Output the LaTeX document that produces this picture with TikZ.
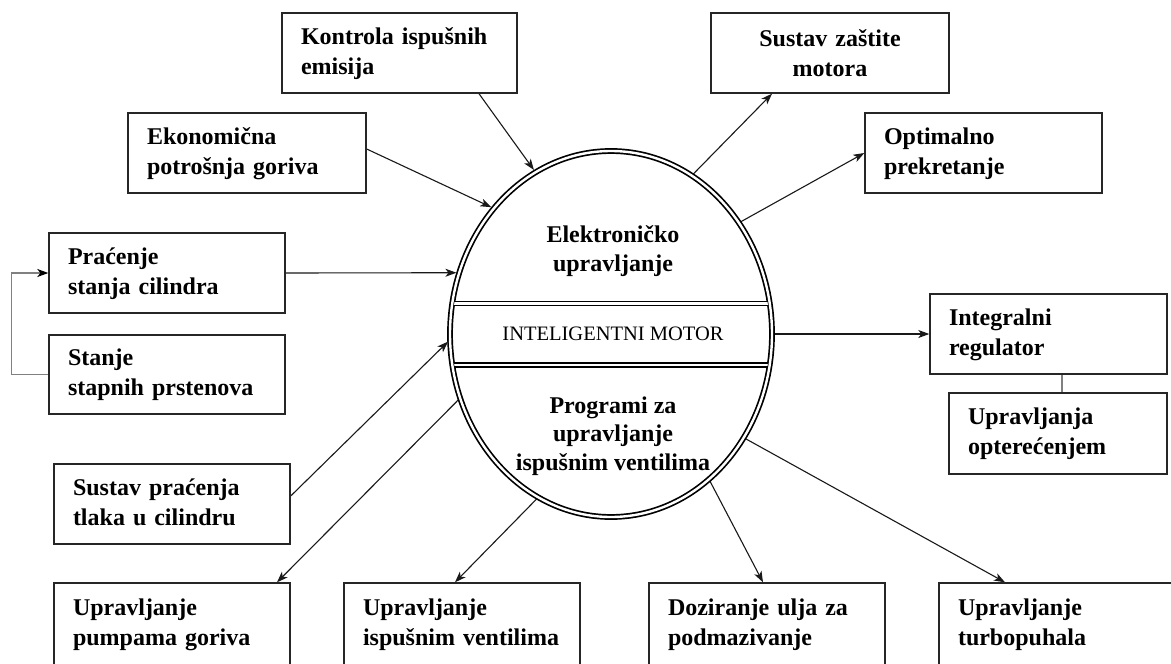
\documentclass[tikz,border=0pt]{standalone}
\usepackage{fontspec}
\setmainfont{Liberation Serif}
\usetikzlibrary{arrows.meta,calc,shapes.geometric}
\pgfdeclarelayer{bg}
\pgfsetlayers{bg,main}
\newcommand\bxt[1]{\begin{tabular}{@{\hspace{19pt}}l@{}}#1\end{tabular}}
\begin{document}
\begin{tikzpicture}[x=1pt,y=-1pt,
  box/.style={draw=black!85, line width=1.4pt, fill=white, minimum height=80pt,
    inner xsep=0pt, inner ysep=0pt, text width=#1, align=left,
    font=\bfseries\fontsize{24}{30}\selectfont},
  cbox/.style={box=#1, align=center},
  etext/.style={align=center, inner sep=0pt, font=\bfseries\fontsize{24}{28.5}\selectfont},
  mtext/.style={inner sep=0pt, font=\fontsize{20.5}{24}\selectfont},
  dbl/.style={draw=black, line width=1.7pt, double=white, double distance=2.4pt},
  conn/.style={draw=black!90, line width=1.1pt, -{Stealth[length=11pt,width=8pt,inset=3pt]}},
  into/.style={conn, shorten >=2.9pt},
  gline/.style={draw=black!50, line width=1.3pt},
]
\useasboundingbox (0,0) rectangle (1171,664);
\clip (0,0) rectangle (1171,664);

% central ellipse
\node[ellipse, dbl, fill=white, minimum width=322pt, minimum height=366pt,
      inner sep=0pt, outer sep=0pt] (ell) at (611,334) {};
\begin{scope}
  \clip (ell.center) ellipse [x radius=159pt, y radius=181pt];
  \draw[dbl] (430,303.5) -- (800,303.5);
  \draw[dbl] (430,365) -- (800,365);
\end{scope}
\node[etext] (el1) at (613,251) {Elektroničko\\upravljanje};
\node[mtext] (im) at (613,334) {INTELIGENTNI MOTOR};
\node[etext] (el2) at (613,436) {Programi za\\upravljanje\\ispušnim ventilima};

% boxes
\node[box=235pt] (kon) at (399.5,53) {\bxt{Kontrola ispušnih\\emisija}};
\node[box=238pt] (eko) at (247,153) {\bxt{Ekonomična\\potrošnja goriva}};
\node[cbox=238pt] (sz) at (830,53) {Sustav zaštite\\motora};
\node[box=237pt] (opt) at (983.5,153) {\bxt{Optimalno\\prekretanje}};
\node[box=236pt] (prac) at (167,273) {\bxt{Praćenje\\stanja cilindra}};
\node[box=236pt, minimum height=79pt] (stan) at (167,374.5) {\bxt{Stanje\\stapnih prstenova}};
\node[box=237pt] (int) at (1048.5,334) {\bxt{Integralni\\regulator}};
\node[box=218pt, minimum height=81pt] (upr) at (1058,433.5) {\bxt{Upravljanja\\opterećenjem}};
\node[box=236pt] (spt) at (172,504) {\bxt{Sustav praćenja\\tlaka u cilindru}};
\node[box=236pt, minimum height=82pt] (b1) at (172,624) {\bxt{Upravljanje\\pumpama goriva}};
\node[box=236pt, minimum height=82pt] (b2) at (462,624) {\bxt{Upravljanje\\ispušnim ventilima}};
\node[box=236pt, minimum height=82pt] (b3) at (767,624) {\bxt{Doziranje ulja za\\podmazivanje}};
\node[box=236pt, minimum height=82pt] (b4) at (1057,624) {\bxt{Upravljanje\\turbopuhala}};

% connectors
\begin{pgfonlayer}{bg}
  \fill[white] (0,0) rectangle (1171,664);
  \draw[into] ([xshift=79.5pt]kon.south) -- (ell.115);
  \draw[into] ([yshift=4pt]eko.east) -- (ell.133);
  \draw[into] (prac.east) -- (ell.158);
  \draw[into] ([yshift=8pt]spt.east) -- (ell.182);
  \draw[conn] (ell.203) -- ([xshift=105pt]b1.north);
  \draw[conn] (ell.246) -- ([xshift=-7pt]b2.north);
  \draw[conn] (ell.304) -- ([xshift=-4pt]b3.north);
  \draw[conn] (ell.322) -- ([xshift=-52pt]b4.north);
  \draw[conn] (ell.east) -- (ell.east -| int.west);
  \draw[conn] (ell.63) -- ([xshift=-58pt]sz.south);
  \draw[conn] (ell.41) -- (opt.west);
  \draw[gline, -{Stealth[black,length=11pt,width=8pt,inset=3pt]}]
    (stan.west) -- ++(-37,0) |- (prac.west);
  \draw[gline] ([xshift=13.5pt]int.south) -- ([xshift=13.5pt]int.south |- upr.north);
\end{pgfonlayer}
\end{tikzpicture}
\end{document}
